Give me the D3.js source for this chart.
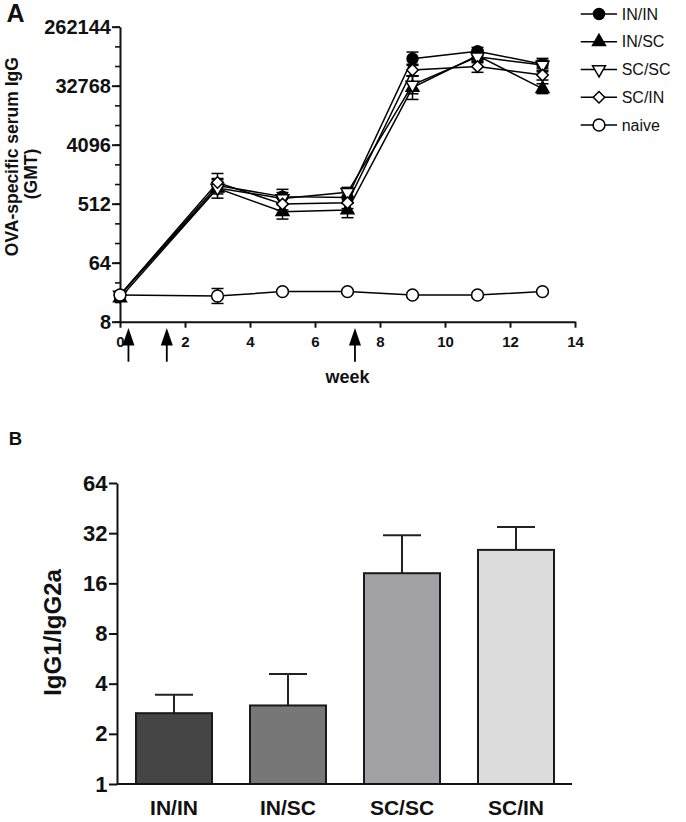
<!DOCTYPE html>
<html><head><meta charset="utf-8">
<script src="https://cdn.jsdelivr.net/npm/d3@7"></script>
<style>body{margin:0;background:#fff}svg{display:block}</style>
</head><body>
<svg id="c" width="686" height="822"></svg>
<script>
// ---------- Data: panel A ----------
const weeks = [0, 3, 5, 7, 9, 11, 13];
const seriesNames = ["IN/IN", "IN/SC", "SC/SC", "SC/IN", "naive"];
const gmtININ  = [20.5, 970, 657, 635, 84700, 110000, 70000];
const gmtINSC  = [18.5, 880, 385, 410, 30600, 95000, 29500];
const gmtSCSC  = [20.5, 890, 617, 765, 33700, 90700, 67800];
const gmtSCIN  = [20.5, 1080, 505, 530, 57000, 64200, 47600];
const gmtNaive = [20.5, 19.8, 23.1, 23.1, 20.5, 20.5, 23.1];
// error (SEM, log2 units)
const errININ  = [0.1, 0.3, 0.37, 0.3, 0.34, 0.2, 0.2];
const errINSC  = [0.15, 0.5, 0.37, 0.39, 0.6, 0.3, 0.25];
const errSCSC  = [0.1, 0.3, 0.3, 0.25, 0.45, 0.3, 0.34];
const errSCIN  = [0.1, 0.46, 0.3, 0.3, 0.29, 0.29, 0.25];
const errNaive = [0.1, 0.38, 0.1, 0.1, 0.1, 0.1, 0.1];
const immunizationWeeks = [0.26, 1.44, 7.23];
const yTicksA = [8, 64, 512, 4096, 32768, 262144];
const xTicksA = [0, 2, 4, 6, 8, 10, 12, 14];

// ---------- Data: panel B ----------
const groups = ["IN/IN", "IN/SC", "SC/SC", "SC/IN"];
const ratio = [2.66, 2.96, 18.4, 25.4];
const ratioErrTop = [3.43, 4.57, 31.1, 34.9];
const yTicksB = [1, 2, 4, 8, 16, 32, 64];

// ---------- Styling ----------
const FONT = "'Liberation Sans', Arial, Helvetica, sans-serif";
const svg = d3.select("#c");

// ================= Panel A =================
const xA = d3.scaleLinear().domain([0, 14]).range([120, 575]);
const yA = d3.scaleLog().base(2).domain([8, 262144]).range([321.7, 26.7]);

const minorA = d3.range(3, 19).map(p => Math.pow(2, p));

svg.append("g").attr("transform", "translate(120,0)")
  .call(d3.axisLeft(yA).tickValues(minorA).tickSize(5).tickFormat("").tickSizeOuter(0))
  .call(g => g.select(".domain").remove())
  .call(g => g.selectAll("line").attr("stroke", "#111").attr("stroke-width", 1.6));
svg.append("g").attr("transform", "translate(120,0)")
  .call(d3.axisLeft(yA).tickValues(yTicksA).tickSize(8).tickPadding(1).tickFormat(d3.format("d")).tickSizeOuter(0))
  .call(g => g.select(".domain").attr("stroke", "#111").attr("stroke-width", 2))
  .call(g => g.selectAll("line").attr("stroke", "#111").attr("stroke-width", 2))
  .call(g => g.selectAll("text").attr("font-family", FONT).attr("font-weight", "bold")
      .attr("font-size", 20).attr("fill", "#111"));

svg.append("g").attr("transform", "translate(0,321.7)")
  .call(d3.axisBottom(xA).tickValues(xTicksA).tickSize(6).tickPadding(8.5).tickSizeOuter(0))
  .call(g => g.select(".domain").attr("stroke", "#111").attr("stroke-width", 2))
  .call(g => g.selectAll("line").attr("stroke", "#111").attr("stroke-width", 2))
  .call(g => g.selectAll("text").attr("font-family", FONT).attr("font-weight", "bold")
      .attr("font-size", 15).attr("fill", "#111"));

// immunization arrows
const arrows = svg.append("g");
immunizationWeeks.forEach(w => {
  const x = xA(w);
  arrows.append("path")
    .attr("d", `M${x},328 L${x - 6},345.5 L${x + 6},345.5 Z`)
    .attr("fill", "#000");
  arrows.append("line").attr("x1", x).attr("x2", x).attr("y1", 345).attr("y2", 361.7)
    .attr("stroke", "#000").attr("stroke-width", 1.8);
});

svg.append("text").attr("x", xA(7)).attr("y", 382.7).attr("text-anchor", "middle")
  .attr("font-family", FONT).attr("font-weight", "bold").attr("font-size", 18)
  .attr("fill", "#111").text("week");

svg.append("text").attr("transform", "translate(17.5,156.7) rotate(-90)")
  .attr("text-anchor", "middle").attr("font-family", FONT).attr("font-weight", "bold")
  .attr("font-size", 17.5).attr("fill", "#111").text("OVA-specific serum IgG");
svg.append("text").attr("transform", "translate(37,174) rotate(-90)")
  .attr("text-anchor", "middle").attr("font-family", FONT).attr("font-weight", "bold")
  .attr("font-size", 17.5).attr("fill", "#111").text("(GMT)");

svg.append("text").attr("x", 6.5).attr("y", 21.7).attr("font-family", FONT)
  .attr("font-weight", "bold").attr("font-size", 25).attr("fill", "#111").text("A");

const seriesVals = [gmtININ, gmtINSC, gmtSCSC, gmtSCIN, gmtNaive];
const seriesErr = [errININ, errINSC, errSCSC, errSCIN, errNaive];
const symbols = [
  { type: d3.symbolCircle, size: 95, fill: "#000", rot: 0 },
  { type: d3.symbolTriangle, size: 72, fill: "#000", rot: 0 },
  { type: d3.symbolTriangle, size: 72, fill: "#fff", rot: 180 },
  { type: d3.symbolSquare, size: 66, fill: "#fff", rot: 45 },
  { type: d3.symbolCircle, size: 110, fill: "#fff", rot: 0 }
];

const line = d3.line().x(d => xA(d.w)).y(d => yA(d.v));
const plotG = svg.append("g");

seriesVals.forEach((vals, si) => {
  const data = weeks.map((w, i) => ({ w, v: vals[i] }));
  plotG.append("path").datum(data).attr("d", line).attr("fill", "none")
    .attr("stroke", "#000").attr("stroke-width", 1.5);
});
seriesVals.forEach((vals, si) => {
  const data = weeks.map((w, i) => ({ w, v: vals[i], e: seriesErr[si][i] }));
  const eg = plotG.append("g").attr("stroke", "#000").attr("stroke-width", 1.5);
  data.forEach(d => {
    const x = xA(d.w);
    const yt = yA(d.v * Math.pow(2, d.e)), yb = yA(d.v / Math.pow(2, d.e));
    eg.append("line").attr("x1", x).attr("x2", x).attr("y1", yt).attr("y2", yb);
    eg.append("line").attr("x1", x - 6).attr("x2", x + 6).attr("y1", yt).attr("y2", yt);
    eg.append("line").attr("x1", x - 6).attr("x2", x + 6).attr("y1", yb).attr("y2", yb);
  });
});
seriesVals.forEach((vals, si) => {
  const s = symbols[si];
  const data = weeks.map((w, i) => ({ w, v: vals[i] }));
  plotG.append("g").selectAll("path").data(data).join("path")
    .attr("d", d3.symbol().type(s.type).size(s.size))
    .attr("transform", d => `translate(${xA(d.w)},${yA(d.v)}) rotate(${s.rot})`)
    .attr("fill", s.fill).attr("stroke", "#000").attr("stroke-width", 1.5);
});

const legend = svg.append("g");
seriesNames.forEach((name, i) => {
  const y = 14 + i * 27.75;
  const s = symbols[i];
  legend.append("line").attr("x1", 580.7).attr("x2", 617).attr("y1", y).attr("y2", y)
    .attr("stroke", "#000").attr("stroke-width", 1.5);
  legend.append("path").attr("d", d3.symbol().type(s.type).size(s.size))
    .attr("transform", `translate(599,${y}) rotate(${s.rot})`)
    .attr("fill", s.fill).attr("stroke", "#000").attr("stroke-width", 1.5);
  legend.append("text").attr("x", 621.7).attr("y", y + 5.6).attr("font-family", FONT)
    .attr("font-size", 16).attr("fill", "#111").text(name);
});

// ================= Panel B =================
const xB = d3.scaleBand().domain(groups).range([117, 573]).paddingInner(1 / 3).paddingOuter(1 / 6);
const yB = d3.scaleLog().base(2).domain([1, 64]).range([784, 483]);
const barColors = ["#454545", "#777777", "#a2a1a6", "#dcdcdc"];

svg.append("text").attr("x", 8.7).attr("y", 445).attr("font-family", FONT)
  .attr("font-weight", "bold").attr("font-size", 18.5).attr("fill", "#111").text("B");

const barG = svg.append("g");
groups.forEach((g, i) => {
  const cx = xB(g) + xB.bandwidth() / 2;
  barG.append("line").attr("x1", cx).attr("x2", cx).attr("y1", yB(ratio[i])).attr("y2", yB(ratioErrTop[i]))
    .attr("stroke", "#222").attr("stroke-width", 2);
  barG.append("line").attr("x1", cx - xB.bandwidth() / 4).attr("x2", cx + xB.bandwidth() / 4)
    .attr("y1", yB(ratioErrTop[i])).attr("y2", yB(ratioErrTop[i]))
    .attr("stroke", "#222").attr("stroke-width", 2);
});
barG.selectAll("rect").data(groups).join("rect")
  .attr("x", d => xB(d)).attr("width", xB.bandwidth())
  .attr("y", (d, i) => yB(ratio[i])).attr("height", (d, i) => 784 - yB(ratio[i]))
  .attr("fill", (d, i) => barColors[i]).attr("stroke", "#1a1a1a").attr("stroke-width", 2);

svg.append("g").attr("transform", "translate(117,0)")
  .call(d3.axisLeft(yB).tickValues(yTicksB).tickSize(8).tickPadding(1.5).tickFormat(d3.format("d")).tickSizeOuter(0))
  .call(g => g.select(".domain").attr("stroke", "#111").attr("stroke-width", 2))
  .call(g => g.selectAll("line").attr("stroke", "#111").attr("stroke-width", 2))
  .call(g => g.selectAll("text").attr("font-family", FONT).attr("font-weight", "bold")
      .attr("font-size", 22).attr("fill", "#111"));

svg.append("g").attr("transform", "translate(0,784)")
  .call(d3.axisBottom(xB).tickSize(0).tickPadding(31).tickSizeOuter(0))
  .call(g => g.select(".domain").attr("stroke", "#111").attr("stroke-width", 2).attr("d", "M117,0H572"))
  .call(g => g.selectAll("text").attr("font-family", FONT).attr("font-weight", "bold")
      .attr("font-size", 21).attr("fill", "#111").attr("dy", 0));

svg.append("text").attr("transform", "translate(61,632.5) rotate(-90)")
  .attr("text-anchor", "middle").attr("font-family", FONT).attr("font-weight", "bold")
  .attr("font-size", 24).attr("fill", "#111").text("IgG1/IgG2a");
</script>
</body></html>
